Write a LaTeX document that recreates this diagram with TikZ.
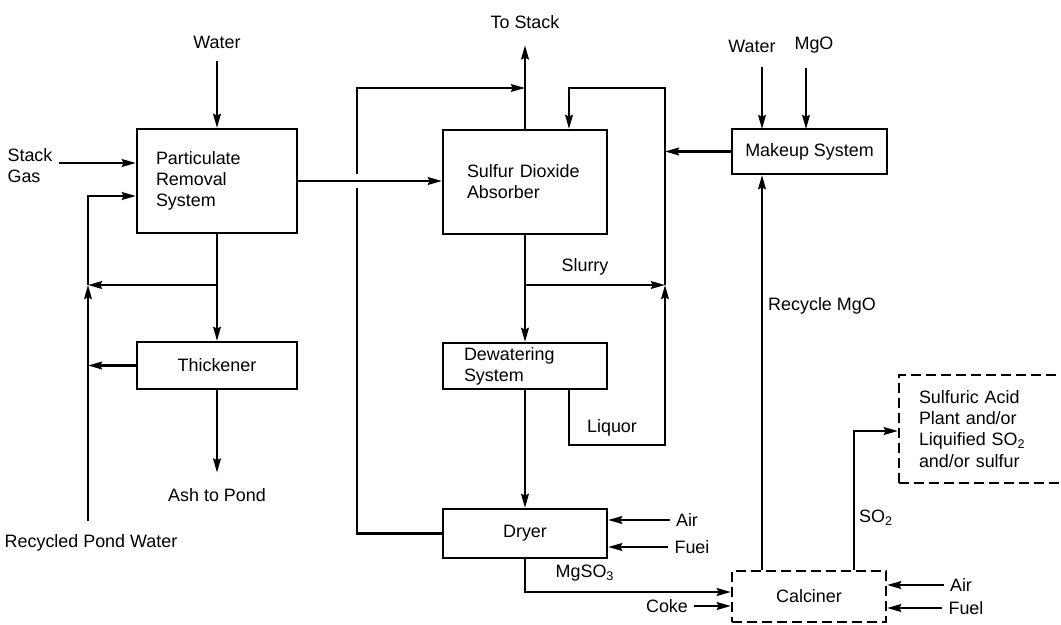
\documentclass[tikz,border=0pt]{standalone}
\usepackage{fontspec}
\setmainfont{Liberation Sans}
\usetikzlibrary{positioning,arrows.meta}

\begin{document}
\begin{tikzpicture}[
    x=0.02cm, y=-0.02cm,
    unit/.style={rectangle, draw, line width=1.3pt, minimum width=3.2cm, inner sep=0pt},
    ghost/.style={unit, dash pattern=on 0.2cm off 0.1cm},
    flow/.style={->, line width=1.3pt},
    feed/.style={flow, shorten <=4pt},
    every node/.style={font=\fontsize{10.2}{12}\selectfont},
    >={Stealth[length=8pt,width=4.4pt,inset=1pt]}
]
    \useasboundingbox (0,0) rectangle (1061,625);
    \clip (0,0) rectangle (1061,625);

    \node[unit, minimum height=2.08cm, text width=2.44cm, align=left] (prs) at (217,181) {Particulate\\Removal\\System};
    \node[unit, minimum height=0.94cm] (thk) at (217,365.5) {Thickener};
    \node[unit, minimum width=3.28cm, minimum height=2.08cm, text width=2.32cm, align=left] (sda) at (525,182) {Sulfur Dioxide\\Absorber};
    \node[unit, minimum width=3.28cm, minimum height=0.92cm, text width=2.44cm, align=left] (dew) at (525,366) {Dewatering\\System};
    \node[unit, minimum width=3.28cm, minimum height=0.98cm] (dry) at (525,533.5) {Dryer};
    \node[unit, minimum width=3.1cm, minimum height=0.9cm] (mkp) at (809.5,151.5) {Makeup System};
    \node[ghost, minimum width=3.08cm, minimum height=1.02cm] (calc) at (809,596.5) {Calciner};
    \node[ghost, minimum width=3.34cm, minimum height=2.16cm, text width=2.54cm, align=left] (acid) at (982.5,429) {Sulfuric Acid\\Plant and/or\\Liquified SO\textsubscript{2}\\and/or sulfur};

    \node (wat1) at (217,42) {Water};
    \node[align=left] (gas) at (30,166) {Stack\\Gas};
    \node (pond) at (91,543) {Recycled Pond Water};
    \node (ash) at (217,495) {Ash to Pond};
    \node (stack) at (525,22) {To Stack};
    \node (wat2) at (752,46) {Water};
    \node (mgo) at (814,45) {MgO};
    \node (recy) at (822,306) {Recycle MgO};
    \node (air1) at (687,520) {Air};
    \node (fuel1) at (692,547) {Fuei};
    \node (coke) at (667,606) {Coke};
    \node (air2) at (961,585) {Air};
    \node (fuel2) at (966,608) {Fuel};
    \node (so2) at (876,518) {SO\textsubscript{2}};
    \node (slurry) at (585,267) {Slurry};
    \node (liquor) at (612,428) {Liquor};
    \node (mgso) at (585,573) {MgSO\textsubscript{3}};

    \coordinate (jpond) at (88,285);
    \coordinate (jslur) at (665,285);
    \coordinate (pin) at (88,196);
    \coordinate (ltop) at (357,88);
    \coordinate (rtop) at (665,88);
    \coordinate (liq) at (569,445);
    \coordinate (mgs) at (525,592);
    \coordinate (so2c) at (854,431);
    \coordinate (win) at (762,129);
    \coordinate (min) at (806,129);

    \draw[feed] (wat1) -- (prs);
    \draw[flow] (gas.east |- 0,163) -- (prs.west |- 0,163);
    \draw[feed] (pond.north -| jpond) -- (jpond);
    \draw[flow] (prs.south |- jpond) -- (jpond);
    \draw[flow] (jpond) |- (prs.west |- pin);
    \draw[flow] (prs) -- (thk);
    \draw[flow] (thk.west) -- (thk.west -| jpond);
    \draw[flow, shorten >=5.5pt] (thk) -- (ash);
    \draw[flow] (prs.east) -- (prs.east -| sda.west);

    \draw[line width=1.3pt] (dry.west) -| ([yshift=-0.14cm]prs.east -| ltop);
    \draw[flow] ([yshift=0.14cm]prs.east -| ltop) -- (ltop) -- (ltop -| stack);
    \draw[flow, shorten >=6pt] (sda.north -| stack) -- (stack);

    \draw[flow] (mkp.west) -- (mkp.west -| rtop);
    \draw[flow] (jslur) -- (rtop) -| (sda.north -| liq);
    \draw[flow] (sda.south |- jslur) -- (jslur);
    \draw[flow] (sda) -- (dew);
    \draw[flow] (dew.south -| liq) -- (liq) -| (jslur);
    \draw[flow] (dew) -- (dry);

    \draw[flow] (air1.west) -- (air1.west -| dry.east);
    \draw[flow] (fuel1.west) -- (fuel1.west -| dry.east);
    \draw[flow] (dry.south) -- (mgs) -- (mgs -| calc.west);
    \draw[flow] (coke.east) -- (coke.east -| calc.west);
    \draw[flow] (air2.west) -- (air2.west -| calc.east);
    \draw[flow] (fuel2.west) -- (fuel2.west -| calc.east);

    \draw[flow] (calc.north -| win) -- (mkp.south -| win);
    \draw[flow] (calc.north -| so2c) -- (so2c) -- (so2c -| acid.west);
    \draw[feed, shorten <=5pt] (wat2.south -| win) -- (win);
    \draw[feed, shorten <=5pt] (mgo.south -| min) -- (min);
\end{tikzpicture}
\end{document}
